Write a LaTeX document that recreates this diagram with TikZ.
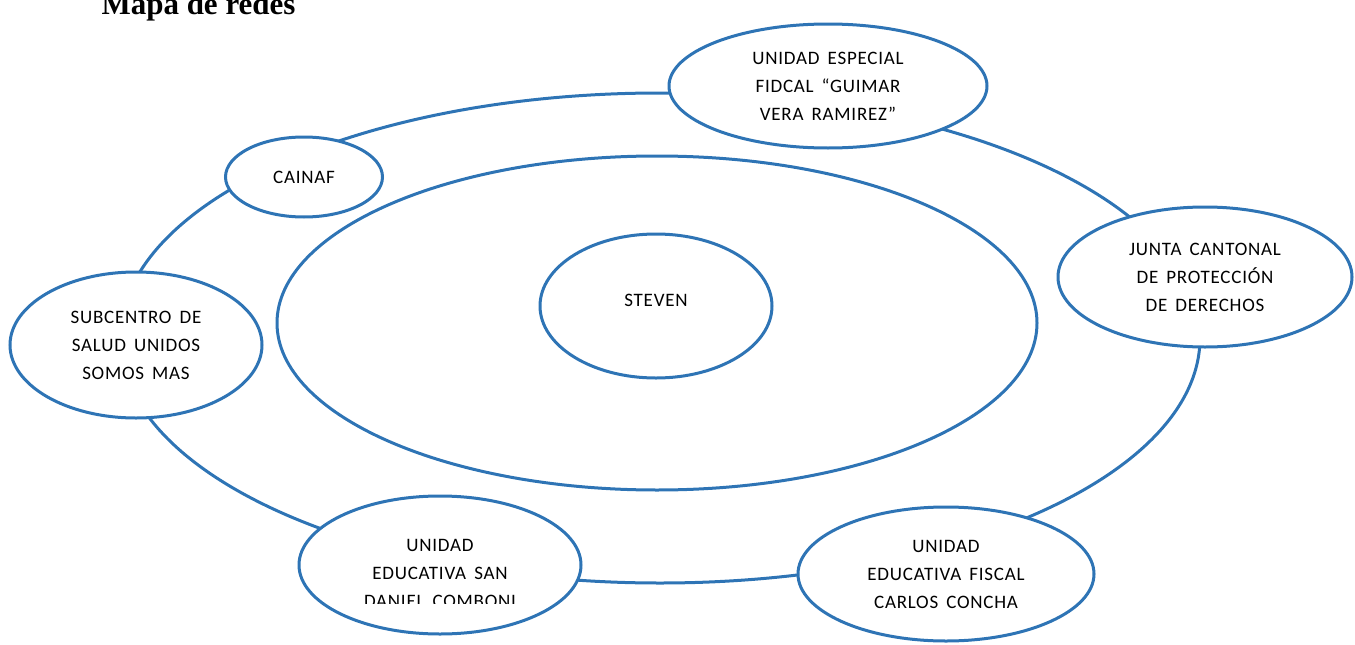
\documentclass[tikz,border=0pt]{standalone}
\usepackage{fontspec}
\setmainfont{Carlito}[LetterSpace=4,WordSpace=1.6]
\newfontfamily\titlefont{Liberation Serif}
\definecolor{ringblue}{RGB}{46,116,181}
\usetikzlibrary{shapes.geometric,positioning}

\begin{document}
\begin{tikzpicture}[x=1pt,y=-1pt,
    every node/.style={ellipse,draw=ringblue,line width=3pt,fill=white,
        inner sep=0pt,align=center,font=\fontsize{19}{28}\selectfont},
    plain/.style={draw=none,fill=none,rectangle}
    ]
    \useasboundingbox (0,0) rectangle (1355,645);

    \node (title) [plain,anchor=base west,font=\titlefont\bfseries\fontsize{31}{32}\selectfont] at (100,14) {Mapa de redes};

    % the ring behind the outer nodes
    \node (ring) [fill=none,minimum width=1080pt,minimum height=490pt] at (660,338) {};
    \node (inner) [fill=none,minimum width=760pt,minimum height=334pt] at (657,323) {};
    \node (steven) [minimum width=232pt,minimum height=144pt] at (656,306) {\raisebox{12pt}{STEVEN}};

    % the outer nodes
    \node (fiscalia) [minimum width=318pt,minimum height=124pt] at (828,86) {UNIDAD ESPECIAL\\FIDCAL “GUIMAR\\VERA RAMIREZ”};
    \node (cainaf) [minimum width=157pt,minimum height=80pt] at (304,177) {CAINAF};
    \node (junta) [minimum width=294pt,minimum height=140pt] at (1205,277) {JUNTA CANTONAL\\DE PROTECCIÓN\\DE DERECHOS};
    \node (subcentro) [minimum width=252pt,minimum height=146pt] at (136,345) {SUBCENTRO DE\\SALUD UNIDOS\\SOMOS MAS};
    \node (comboni) [minimum width=282pt,minimum height=138pt] at (440,565) {};
    \node (concha) [minimum width=296pt,minimum height=134pt] at (946,574) {UNIDAD\\EDUCATIVA FISCAL\\CARLOS CONCHA};

    % text cut off at the bottom
    \begin{scope}
    \clip (300,480) rectangle (580,603);
    \node (combonitext) [plain] at (440,573) {UNIDAD\\EDUCATIVA SAN\\DANIEL COMBONI};
    \end{scope}
\end{tikzpicture}
\end{document}
